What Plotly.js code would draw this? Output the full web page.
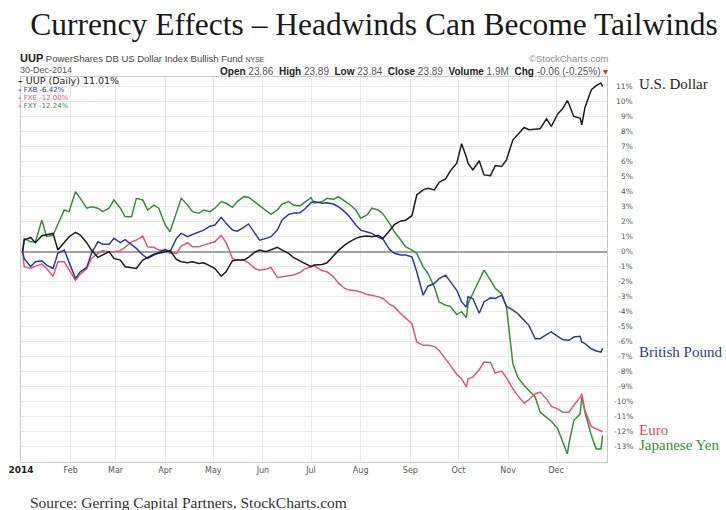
<!DOCTYPE html>
<html>
<head>
<meta charset="utf-8">
<script src="https://cdn.plot.ly/plotly-3.0.1.min.js"></script>
<style>html,body{margin:0;padding:0;background:#fff;}#chart{width:726px;height:510px;}</style>
</head>
<body>
<div id="chart"></div>
<script>
// ---- data (percent change since start of 2014) ----
const dates = ['2014-01-02','2014-01-03','2014-01-07','2014-01-10','2014-01-14','2014-01-17','2014-01-21','2014-01-24','2014-01-28','2014-01-31',
'2014-02-04','2014-02-07','2014-02-11','2014-02-14','2014-02-18','2014-02-21','2014-02-25','2014-02-28',
'2014-03-04','2014-03-07','2014-03-11','2014-03-14','2014-03-18','2014-03-21','2014-03-25','2014-03-28',
'2014-04-01','2014-04-04','2014-04-08','2014-04-11','2014-04-15','2014-04-18','2014-04-22','2014-04-25','2014-04-29',
'2014-05-02','2014-05-06','2014-05-09','2014-05-13','2014-05-16','2014-05-20','2014-05-23','2014-05-27','2014-05-30',
'2014-06-03','2014-06-06','2014-06-10','2014-06-13','2014-06-17','2014-06-20','2014-06-24','2014-06-27',
'2014-07-01','2014-07-03','2014-07-08','2014-07-11','2014-07-15','2014-07-18','2014-07-22','2014-07-25','2014-07-29',
'2014-08-01','2014-08-05','2014-08-08','2014-08-12','2014-08-15','2014-08-19','2014-08-22','2014-08-26','2014-08-29',
'2014-09-02','2014-09-05','2014-09-09','2014-09-12','2014-09-16','2014-09-19','2014-09-23','2014-09-26','2014-09-30',
'2014-10-03','2014-10-06','2014-10-07','2014-10-10','2014-10-14','2014-10-17','2014-10-21','2014-10-24','2014-10-28','2014-10-31',
'2014-11-04','2014-11-07','2014-11-11','2014-11-14','2014-11-18','2014-11-21','2014-11-25','2014-11-28',
'2014-12-02','2014-12-05','2014-12-08','2014-12-09','2014-12-12','2014-12-16','2014-12-17','2014-12-19','2014-12-23','2014-12-26','2014-12-29','2014-12-30'];

const uup = [0,0.77,0.95,0.6,1.06,1.11,1.22,0.11,0.6,1.0,
1.29,1.11,0.6,0.11,-0.38,-0.22,0.0,-0.45,
-0.56,-1.0,-1.05,-1.12,-0.56,-0.38,-0.16,-0.11,
0.0,0.07,-0.51,-0.67,-0.74,-0.67,-0.78,-0.74,-0.94,
-1.12,-1.63,-1.34,-0.6,-0.56,-0.56,-0.38,-0.02,0.11,
0.0,0.11,0.29,0.11,-0.11,-0.38,-0.62,-0.78,
-1.0,-0.89,-0.85,-0.74,-0.27,0.07,0.44,0.66,0.89,
1.0,1.04,1.0,1.09,0.89,1.4,1.8,2.05,2.1,
2.4,3.78,4.12,4.23,4.12,4.63,4.85,5.39,5.9,
7.2,6.3,5.9,5.45,6.06,5.12,5.07,5.74,5.68,6.12,
7.46,7.79,8.28,8.13,8.17,8.2,8.86,8.35,
9.18,9.53,10.07,9.84,9.02,8.91,8.46,9.62,10.8,11.07,11.25,11.01];

const fxb = [0,-0.45,-1.0,-0.67,-0.6,-0.89,-1.12,-0.11,0.11,-0.67,
-1.78,-1.34,-1.05,-0.11,0.66,0.5,0.5,0.89,
0.6,0.8,0.5,0.22,-0.22,-0.45,-0.22,-0.07,
0.15,0.0,0.89,1.22,1.0,1.15,1.33,1.44,1.7,
1.78,2.29,1.89,1.44,1.37,1.62,1.85,1.22,0.77,
0.89,1.0,1.44,2.11,2.49,2.56,2.6,2.83,
3.27,3.34,3.23,3.27,3.18,3.0,2.67,2.33,1.78,
1.44,1.31,1.22,0.96,0.82,0.16,-0.11,-0.22,-0.22,
-0.34,-1.34,-2.9,-2.3,-2.12,-1.79,-1.56,-1.97,-2.57,
-3.35,-3.7,-3.01,-3.12,-4.1,-3.35,-3.08,-3.12,-2.9,-3.64,
-3.9,-4.13,-4.57,-4.91,-5.8,-5.8,-5.53,-5.35,
-5.64,-5.86,-5.9,-5.91,-5.69,-5.64,-6.02,-6.13,-6.47,-6.62,-6.69,-6.42];

const fxe = [0,-1.0,-1.12,-0.96,-0.83,-1.12,-1.63,-0.67,-0.67,-1.23,
-1.9,-1.5,-1.14,-0.45,-0.11,0.07,-0.04,0.0,
0.07,0.29,0.66,0.77,1.04,0.33,0.29,0.11,
0.07,-0.11,-0.11,0.38,0.6,0.33,0.33,0.44,0.55,
0.66,1.09,0.6,-0.45,-0.56,-0.56,-0.74,-1.12,-1.23,
-1.16,-1.05,-1.72,-1.67,-1.63,-1.56,-1.39,-1.16,
-1.0,-0.94,-1.27,-1.34,-1.67,-2.08,-2.45,-2.56,-2.61,
-2.68,-2.86,-2.9,-3.01,-3.12,-3.5,-3.68,-4.13,-4.42,
-4.8,-6.02,-6.24,-6.24,-6.31,-6.58,-7.13,-7.58,-8.18,
-8.47,-9.03,-8.47,-8.36,-7.87,-7.36,-7.38,-8.09,-7.96,-8.4,
-9.14,-9.58,-10.1,-9.87,-9.47,-9.36,-9.81,-10.32,
-10.48,-10.7,-10.7,-10.7,-10.25,-9.7,-9.47,-10.59,-11.66,-11.81,-11.92,-12.0];

const fxy = [0,0.89,0.66,0.66,2.1,1.0,1.1,1.78,2.78,2.67,
4.0,3.56,2.9,3.0,2.9,2.67,2.9,3.45,
2.9,2.33,2.33,3.56,3.45,2.78,3.11,2.9,
1.78,1.33,2.67,3.56,3.11,2.67,2.56,2.78,2.67,
2.9,3.34,3.23,2.96,3.34,3.67,3.63,3.3,3.05,
2.74,2.49,2.78,3.18,3.34,3.11,3.05,3.27,
3.6,3.23,3.34,3.56,3.49,3.67,3.38,3.16,2.78,
2.23,2.45,2.9,2.78,2.52,1.89,1.33,0.78,0.33,
0.1,-0.11,-1.01,-1.45,-2.35,-3.35,-3.57,-3.64,-4.19,
-4.0,-4.4,-3.46,-2.79,-1.9,-1.23,-1.9,-2.45,-2.79,-3.68,
-7.47,-8.36,-8.92,-9.25,-9.7,-10.7,-11.08,-11.3,
-11.81,-12.59,-13.48,-12.81,-11.26,-10.81,-9.7,-10.7,-12.26,-13.15,-13.15,-12.24];

const monthTicks = ['2014-01-01','2014-02-01','2014-03-01','2014-04-01','2014-05-01','2014-06-01','2014-07-01','2014-08-01','2014-09-01','2014-10-01','2014-11-01','2014-12-01'];
const monthLabels = ['2014','Feb','Mar','Apr','May','Jun','Jul','Aug','Sep','Oct','Nov','Dec'];
const yTicks = [11,10,9,8,7,6,5,4,3,2,1,0,-1,-2,-3,-4,-5,-6,-7,-8,-9,-10,-11,-12,-13];

const seriesNames = ['UUP (Daily) 11.01%','FXB -6.42%','FXE -12.00%','FXY -12.24%'];
const endLabels = ['U.S. Dollar','British Pound','Euro','Japanese Yen'];
// ---------------------------------------------------

const colors = ['#1c1c1c','#2f3b94','#de5873','#3b8b3b'];
const allSeries = [uup, fxb, fxe, fxy];
const order = [3,2,1,0];
const traces = order.map(i => ({
  x: dates, y: allSeries[i], type: 'scatter', mode: 'lines',
  line: {color: colors[i], width: 1.5}, name: seriesNames[i], hoverinfo: 'skip'
}));

// plot box in pixels: left 21, right 607, top 77, bottom 462
const L = 21, R = 607, T = 77, B = 462;
const px = x => (x - L) / (R - L);
const py = y => (B - y) / (B - T);

const sans = 'Liberation Sans, Arial, sans-serif';
const serif = 'Liberation Serif, Times New Roman, serif';

const ann = [];
function add(o) { ann.push(Object.assign({xref:'paper', yref:'paper', showarrow:false, borderpad:0, yanchor:'middle'}, o)); }

// header
add({x:px(19), y:py(57.5), xanchor:'left',
  text:"<b><span style='font-size:11px;color:#222'>UUP</span></b> PowerShares DB US Dollar Index Bullish Fund <span style='font-size:7px'>NYSE</span>",
  font:{family:sans, size:9.5, color:'#444'}});
add({x:px(19), y:py(70.5), xanchor:'left', text:'30-Dec-2014', font:{family:sans, size:9, color:'#555'}});
add({x:px(609), y:py(71), xanchor:'right',
  text:"<b><span style='color:#222'>Open</span></b> 23.86  <b><span style='color:#222'>High</span></b> 23.89  <b><span style='color:#222'>Low</span></b> 23.84  <b><span style='color:#222'>Close</span></b> 23.89  <b><span style='color:#222'>Volume</span></b> 1.9M  <b><span style='color:#222'>Chg</span></b> -0.06 (-0.25%) <span style='color:#c0392b'>▾</span>",
  font:{family:sans, size:10, color:'#555'}});
add({x:px(609), y:py(58), xanchor:'right', text:'©StockCharts.com', font:{family:sans, size:9.5, color:'#8a8a8a'}});

// legend
const legY = [80.5, 90.5, 98.5, 106.5];
seriesNames.forEach((n, i) => add({x:px(17), y:py(legY[i]), xanchor:'left',
  text:'<b>–</b> ' + n,
  font:{family:'DejaVu Sans, sans-serif', size: i === 0 ? 9.5 : 7, color: colors[i]}}));

// y tick labels on right (right-aligned)
yTicks.forEach(v => add({yref:'y', x:px(634), y:v, xanchor:'right', text: v + '%',
  font:{family:'DejaVu Sans, sans-serif', size:7.5, color:'#555'}}));

// end labels
const endY = [84, 352, 430, 445];
const endColors = ['#222222','#2f3b8a','#d9485f','#3b8b3b'];
endLabels.forEach((t, i) => add({x:px(638), y:py(endY[i]), xanchor:'left', text:t, font:{family:serif, size:15, color:endColors[i]}}));

// source
add({x:px(29), y:py(503), xanchor:'left', text:'Source: Gerring Capital Partners, StockCharts.com', font:{family:serif, size:15.5, color:'#333'}});

const ticktext = monthLabels.map((m, i) => i === 0 ? "<b><span style='font-size:9px;color:#222'>" + m + "</span></b>" : m);

const layout = {
  width: 726, height: 510,
  margin: {l: L, r: 726 - R, t: T, b: 510 - B, pad: 0},
  paper_bgcolor: '#fff', plot_bgcolor: '#fff',
  showlegend: false,
  title: {text: 'Currency Effects – Headwinds Can Become Tailwinds', font:{family:serif, size:31.5, color:'#1a1a1a'},
    x: 374/726, xref:'container', xanchor:'center', y: 1 - 24/510, yref:'container', yanchor:'middle'},
  xaxis: {type:'date', range:['2014-01-01','2015-01-01 18:00'], tickvals: monthTicks, ticktext: ticktext,
    tickfont:{family:'DejaVu Sans, sans-serif', size:8, color:'#555'}, ticks:'', showgrid:true, gridcolor:'#e8e8e8', gridwidth:1,
    showline:true, mirror:true, linecolor:'#c9c9c9', linewidth:1, zeroline:false, fixedrange:true},
  yaxis: {side:'right', range:[(B - 251.7) / -15, (251.7 - T) / 15], tickvals: yTicks, showticklabels:false, ticks:'',
    showgrid:true, gridcolor:'#e8e8e8', gridwidth:1, zeroline:true, zerolinecolor:'#a3a3a3', zerolinewidth:2,
    showline:true, mirror:true, linecolor:'#c9c9c9', linewidth:1, fixedrange:true},
  annotations: ann
};

Plotly.newPlot('chart', traces, layout, {displayModeBar:false, staticPlot:true});
</script>
</body>
</html>
